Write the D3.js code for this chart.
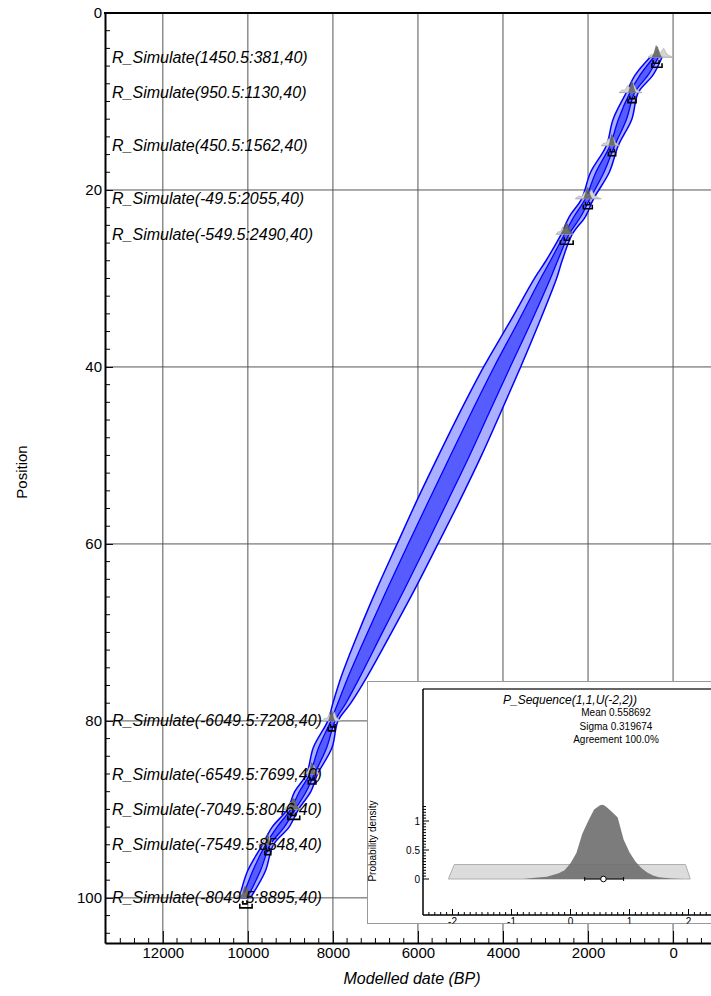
<!DOCTYPE html>
<html>
<head>
<meta charset="utf-8">
<script src="https://cdn.jsdelivr.net/npm/d3@7"></script>
<style>
  html, body { margin: 0; padding: 0; background: #fff; }
  svg { display: block; font-family: "Liberation Sans", Arial, sans-serif; }
</style>
</head>
<body>
<div id="chart"></div>
<script>
// depth model envelope (BP) by position
const bandPos    = [5, 7, 9, 12, 15, 18, 21, 23, 25, 28, 30, 35, 40, 45, 50, 55, 60, 65, 70, 75, 78, 80, 83, 86, 88, 90, 92, 94, 97, 100];
const outerOld   = [540, 890, 1100, 1410, 1570, 1940, 2150, 2440, 2630, 2990, 3260, 3850, 4455, 5000, 5515, 6015, 6490, 6960, 7400, 7805, 8000, 8120, 8460, 8620, 8900, 9070, 9430, 9660, 10010, 10200];
const innerOld   = [455, 775, 1015, 1285, 1485, 1815, 2065, 2330, 2555, 2885, 3115, 3655, 4210, 4730, 5235, 5735, 6230, 6715, 7185, 7640, 7885, 8050, 8335, 8545, 8790, 8995, 9315, 9585, 9890, 10125];
const innerYoung = [345, 585, 905, 1095, 1375, 1625, 1955, 2170, 2445, 2715, 2885, 3345, 3830, 4310, 4785, 5285, 5790, 6305, 6835, 7360, 7695, 7950, 8145, 8435, 8630, 8885, 9145, 9475, 9710, 10015];
const outerYoung = [260, 470, 820, 970, 1290, 1500, 1870, 2060, 2370, 2610, 2740, 3150, 3585, 4040, 4505, 5005, 5530, 6060, 6620, 7195, 7580, 7880, 8020, 8360, 8520, 8810, 9030, 9400, 9590, 9940];

// simulated dates
const datePos = [5, 9, 15, 21, 25, 80, 86, 90, 94, 100];
const dateLabels = [
  'R_Simulate(1450.5:381,40)', 'R_Simulate(950.5:1130,40)', 'R_Simulate(450.5:1562,40)',
  'R_Simulate(-49.5:2055,40)', 'R_Simulate(-549.5:2490,40)', 'R_Simulate(-6049.5:7208,40)',
  'R_Simulate(-6549.5:7699,40)', 'R_Simulate(-7049.5:8046,40)', 'R_Simulate(-7549.5:8548,40)',
  'R_Simulate(-8049.5:8895,40)'
];
const likeOld   = [590, 1270, 1690, 2300, 2750, 8250, 8700, 9150, 9750, 10300];
const likeYoung = [0, 730, 1250, 1690, 2350, 7800, 8300, 8750, 9350, 9850];
const r68Old    = [470, 1020, 1480, 2060, 2560, 8060, 8540, 9000, 9570, 10120];
const r68Young  = [330, 900, 1380, 1960, 2440, 7950, 8440, 8880, 9490, 10020];
const r95Old    = [500, 1060, 1520, 2110, 2650, 8110, 8580, 9060, 9600, 10190];
const r95Young  = [260, 870, 1350, 1900, 2350, 7950, 8400, 8780, 9460, 9900];
const likeProfile = [0, 0.3, 0.25, 0.8, 0.5, 1, 0.35, 0.15, 0];
const postProfile = [0, 0.4, 1, 0.85, 0.3, 0];

// axes
const xMajor = [12000, 10000, 8000, 6000, 4000, 2000, 0];
const yMajor = [0, 20, 40, 60, 80, 100];

// inset: P_Sequence k parameter
const seqX    = [-0.8, -0.6, -0.4, -0.3, -0.2, -0.1, 0, 0.1, 0.2, 0.3, 0.4, 0.5, 0.55, 0.6, 0.7, 0.8, 0.9, 1.0, 1.1, 1.2, 1.3, 1.4, 1.5, 1.7, 1.9];
const seqDens = [0, 0.02, 0.04, 0.07, 0.1, 0.15, 0.27, 0.45, 0.78, 1.0, 1.2, 1.27, 1.28, 1.25, 1.16, 1.06, 0.68, 0.46, 0.3, 0.19, 0.11, 0.06, 0.03, 0.01, 0];
const priorX    = [-2.07, -1.97, 1.95, 2.03];
const priorDens = [0, 0.25, 0.25, 0];
const seqMean = 0.558692, seqLo = 0.24, seqHi = 0.9;
const seqStats = ['Mean 0.558692', 'Sigma 0.319674', 'Agreement 100.0%'];

const width = 711, height = 996;
const svg = d3.select('#chart').append('svg')
  .attr('width', width)
  .attr('height', height);

const x = d3.scaleLinear().domain([13360, -1080]).range([105, 719]);
const y = d3.scaleLinear().domain([0, 105.1]).range([13, 943]);

// grid
svg.append('g').selectAll('line.vg')
  .data(xMajor).enter().append('line')
  .attr('x1', d => x(d)).attr('x2', d => x(d))
  .attr('y1', y(0)).attr('y2', y(105.1))
  .attr('stroke', '#555').attr('stroke-width', 1);
svg.append('g').selectAll('line.hg')
  .data(yMajor.slice(1)).enter().append('line')
  .attr('x1', 105).attr('x2', width)
  .attr('y1', d => y(d)).attr('y2', d => y(d))
  .attr('stroke', '#555').attr('stroke-width', 1);

// envelope
const band = bandPos.map((p, i) => ({ p, oo: outerOld[i], io: innerOld[i], iy: innerYoung[i], oy: outerYoung[i] }));
const outerArea = d3.area().y(d => y(d.p)).x0(d => x(d.oo)).x1(d => x(d.oy)).curve(d3.curveCatmullRom);
const innerArea = d3.area().y(d => y(d.p)).x0(d => x(d.io)).x1(d => x(d.iy)).curve(d3.curveCatmullRom);
svg.append('path').datum(band).attr('d', outerArea)
  .attr('fill', '#aab0ff').attr('stroke', '#0000ff').attr('stroke-width', 1.5);
svg.append('path').datum(band).attr('d', innerArea)
  .attr('fill', '#575cff').attr('stroke', '#0000ff').attr('stroke-width', 1.3);

// date glyphs
const dates = datePos.map((p, i) => ({
  p, label: dateLabels[i], lo: likeOld[i], ly: likeYoung[i],
  a68: r68Old[i], b68: r68Young[i], a95: r95Old[i], b95: r95Young[i]
}));
const glyph = svg.append('g');
dates.forEach(d => {
  const yy = y(d.p);
  const lk = likeProfile.map((v, j) => [x(d.lo + (d.ly - d.lo) * j / (likeProfile.length - 1)), yy - v * 9]);
  glyph.append('path').attr('d', d3.line()(lk))
    .attr('fill', '#d4d4d4').attr('stroke', '#aaa').attr('stroke-width', 0.6);
  glyph.append('line').attr('x1', x(d.lo)).attr('x2', x(d.ly)).attr('y1', yy).attr('y2', yy)
    .attr('stroke', '#aaa').attr('stroke-width', 1);
  const ps = postProfile.map((v, j) => [x(d.a95 + (d.b95 - d.a95) * j / (postProfile.length - 1)), yy - v * 12]);
  glyph.append('path').attr('d', d3.line()(ps)).attr('fill', '#555').attr('opacity', 0.8);
  glyph.append('path')
    .attr('d', `M${x(d.a68)},${yy + 3}V${yy + 6}H${x(d.b68)}V${yy + 3}`)
    .attr('fill', 'none').attr('stroke', '#000').attr('stroke-width', 1.6);
  glyph.append('path')
    .attr('d', `M${x(d.a95)},${yy + 6}V${yy + 10}H${x(d.b95)}V${yy + 6}`)
    .attr('fill', 'none').attr('stroke', '#000').attr('stroke-width', 1.6);
});

// labels
svg.append('g').selectAll('text')
  .data(dates).enter().append('text')
  .attr('x', 112).attr('y', d => y(d.p)).attr('dy', '0.35em')
  .attr('font-size', 16).attr('font-style', 'italic')
  .text(d => d.label);

// axes
const xMinor = d3.range(13000, -1000, -2000 / 6).filter(v => !xMajor.includes(Math.round(v)));
const xAxis = svg.append('g').attr('transform', `translate(0,${y(105.1)})`)
  .call(d3.axisBottom(x).tickValues(xMajor).tickSize(-12).tickSizeOuter(0).tickPadding(4).tickFormat(d3.format('d')));
svg.append('g').attr('transform', `translate(0,${y(105.1)})`)
  .selectAll('line').data(xMinor).enter().append('line')
  .attr('x1', d => x(d)).attr('x2', d => x(d)).attr('y1', 0).attr('y2', -5)
  .attr('stroke', '#000');
const yAxis = svg.append('g').attr('transform', 'translate(105,0)')
  .call(d3.axisLeft(y).tickValues(yMajor).tickSize(-8).tickSizeOuter(0).tickPadding(3));
svg.append('g').attr('transform', 'translate(105,0)')
  .selectAll('line').data(d3.range(2, 106, 2).filter(v => v % 20 !== 0)).enter().append('line')
  .attr('x1', 0).attr('x2', 5).attr('y1', d => y(d)).attr('y2', d => y(d))
  .attr('stroke', '#000');
[xAxis, yAxis].forEach(a => {
  a.select('.domain').attr('stroke-width', 2);
  a.selectAll('text').attr('font-size', 15).attr('font-family', '"Liberation Sans", Arial, sans-serif');
});
svg.append('line').attr('x1', 104).attr('x2', width).attr('y1', 13).attr('y2', 13)
  .attr('stroke', '#000').attr('stroke-width', 2);

svg.append('text').attr('x', 412).attr('y', 984).attr('text-anchor', 'middle')
  .attr('font-size', 16).attr('font-style', 'italic').text('Modelled date (BP)');
svg.append('text').attr('transform', 'translate(27,472) rotate(-90)').attr('text-anchor', 'middle')
  .attr('font-size', 15).text('Position');

// inset
svg.append('clipPath').attr('id', 'insetClip')
  .append('rect').attr('x', 367).attr('y', 681).attr('width', 360).attr('height', 243);
const inset = svg.append('g').attr('clip-path', 'url(#insetClip)');
inset.append('rect').attr('x', 367.5).attr('y', 681.5).attr('width', 360).attr('height', 242)
  .attr('fill', '#fff').attr('stroke', '#999');

const ix = d3.scaleLinear().domain([-2.5, 2.5]).range([423, 718]);
const iy = d3.scaleLinear().domain([0, 1]).range([879, 821]);

const dens = d3.area().x(d => ix(d[0])).y0(iy(0)).y1(d => iy(d[1]));
inset.append('path').datum(priorX.map((v, i) => [v, priorDens[i]])).attr('d', dens)
  .attr('fill', '#dcdcdc').attr('stroke', '#b0b0b0');
inset.append('path').datum(seqX.map((v, i) => [v, seqDens[i]])).attr('d', dens)
  .attr('fill', '#6e6e6e').attr('fill-opacity', 0.9);

inset.append('line').attr('x1', ix(seqLo)).attr('x2', ix(seqHi)).attr('y1', iy(0)).attr('y2', iy(0))
  .attr('stroke', '#000').attr('stroke-width', 1.2);
[seqLo, seqHi].forEach(v => inset.append('line').attr('x1', ix(v)).attr('x2', ix(v))
  .attr('y1', iy(0) - 2).attr('y2', iy(0) + 2).attr('stroke', '#000'));
inset.append('circle').attr('cx', ix(seqMean)).attr('cy', iy(0)).attr('r', 2.8)
  .attr('fill', '#fff').attr('stroke', '#000').attr('stroke-width', 1);

// inset axes
inset.append('line').attr('x1', 423).attr('x2', 720).attr('y1', 689).attr('y2', 689)
  .attr('stroke', '#333').attr('stroke-width', 1.5);
inset.append('line').attr('x1', 423).attr('x2', 423).attr('y1', 689).attr('y2', 915)
  .attr('stroke', '#000').attr('stroke-width', 1.5);
inset.append('line').attr('x1', 423).attr('x2', 720).attr('y1', 915).attr('y2', 915)
  .attr('stroke', '#000').attr('stroke-width', 1.5);
inset.selectAll('line.ibx').data(d3.range(-24, 25)).enter().append('line')
  .attr('x1', d => ix(d / 10)).attr('x2', d => ix(d / 10))
  .attr('y1', 915).attr('y2', d => d % 10 === 0 ? 909 : 912)
  .attr('stroke', '#000');
inset.selectAll('line.iby').data(d3.range(0, 26)).enter().append('line')
  .attr('x1', 423).attr('x2', d => d % 10 === 0 ? 429 : 426)
  .attr('y1', d => iy(d / 20)).attr('y2', d => iy(d / 20))
  .attr('stroke', '#000');
inset.selectAll('text.ixl').data([-2, -1, 0, 1, 2]).enter().append('text')
  .attr('x', d => ix(d)).attr('y', 925).attr('text-anchor', 'middle')
  .attr('font-size', 10).text(d => d);
inset.selectAll('text.iyl').data([0, 0.5, 1]).enter().append('text')
  .attr('x', 420).attr('y', d => iy(d)).attr('dy', '0.35em').attr('text-anchor', 'end')
  .attr('font-size', 10).text(d => d);
inset.append('text').attr('transform', 'translate(376,841) rotate(-90)').attr('text-anchor', 'middle')
  .attr('font-size', 10).text('Probability density');
inset.append('text').attr('x', 570).attr('y', 704).attr('text-anchor', 'middle')
  .attr('font-size', 12).attr('font-style', 'italic').text('P_Sequence(1,1,U(-2,2))');
inset.selectAll('text.st').data(seqStats).enter().append('text')
  .attr('x', 616).attr('y', (d, i) => 716 + i * 13.5).attr('text-anchor', 'middle')
  .attr('font-size', 10).text(d => d);
</script>
</body>
</html>
